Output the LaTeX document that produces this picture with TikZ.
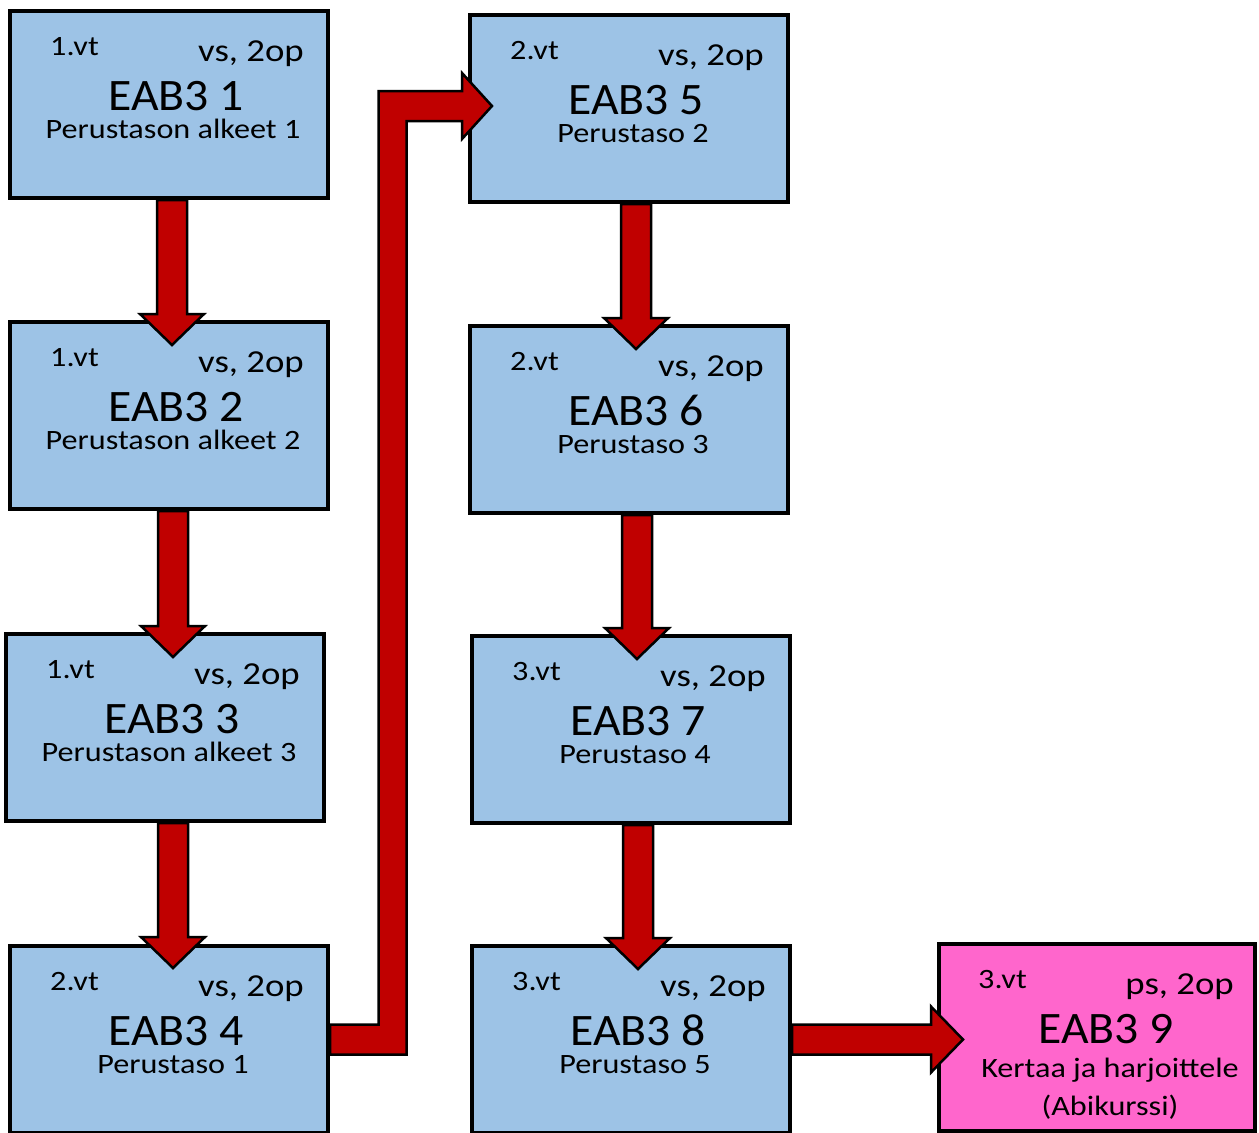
\documentclass[tikz,border=0pt]{standalone}
\usepackage{fontspec}
\setmainfont{Carlito}
\newfontfamily\smallwide[FakeStretch=1.15]{Carlito}
\newfontfamily\titlewide[FakeStretch=1.06]{Carlito}
\newfontfamily\subwide[FakeStretch=1.15]{Carlito}
\usetikzlibrary{calc}
\definecolor{boxblue}{HTML}{9DC3E6}
\definecolor{arrred}{HTML}{C00000}
\definecolor{boxpink}{HTML}{FF66CC}
\newcommand\fatdown[2]{\draw[fatarrow] let \p1=(#1), \p2=(#2) in
 (\x2-15pt,\y1) -- (\x2-15pt,\y2+31pt) -- (\x2-32pt,\y2+31pt) -- (\x2,\y2) --
 (\x2+32pt,\y2+31pt) -- (\x2+15pt,\y2+31pt) -- (\x2+15pt,\y1) -- cycle;}
\newcommand\fatright[2]{\draw[fatarrow] let \p1=(#1), \p2=(#2) in
 (\x1,\y1+15pt) -- (\x2-32pt,\y1+15pt) -- (\x2-32pt,\y1+33pt) -- (\x2,\y1) --
 (\x2-32pt,\y1-33pt) -- (\x2-32pt,\y1-15pt) -- (\x1,\y1-15pt) -- cycle;}
\newcommand\boxtexts[5]{%
 \node[semtxt] (#1s) at ($(#1.north west)+(40,44)$) {#2};
 \node[optxt] (#1o) at ($(#1.north west)+(294,50)$) {#3};
 \node[titletxt] (#1t) at ($(#1.north west)+(166,99)$) {#4};
 \node[subtxt] (#1u) at ($(#1.north west)+(163,127)$) {#5};}
\begin{document}
\begin{tikzpicture}[x=1pt,y=-1pt,
 course/.style={draw=black, line width=4pt, fill=boxblue, minimum width=318pt,
   minimum height=187pt, inner sep=0pt, outer sep=0pt},
 fatarrow/.style={draw=black, line width=2.5pt, fill=arrred, line join=miter},
 semtxt/.style={anchor=base west, inner sep=0pt, font=\smallwide\fontsize{28}{28}\selectfont},
 optxt/.style={anchor=base east, inner sep=0pt, font=\smallwide\fontsize{32}{32}\selectfont},
 titletxt/.style={anchor=base, inner sep=0pt, font=\titlewide\fontsize{45}{45}\selectfont},
 subtxt/.style={anchor=base, inner sep=0pt, font=\subwide\fontsize{28}{28}\selectfont}]
\useasboundingbox (0,0) rectangle (1259,1133);
\node[course] (b1) at (169,104.5) {};
\node[course] (b2) at (169,415.5) {};
\node[course] (b3) at (165,727.5) {};
\node[course] (b4) at (169,1039.5) {};
\node[course] (b5) at (629,108.5) {};
\node[course] (b6) at (629,419.5) {};
\node[course] (b7) at (631,729.5) {};
\node[course] (b8) at (631,1039.5) {};
\node[course, fill=boxpink, minimum width=316pt] (b9) at (1097,1037.5) {};
\boxtexts{b1}{1.vt}{vs, 2op}{EAB3 1}{Perustason alkeet 1}
\boxtexts{b2}{1.vt}{vs, 2op}{EAB3 2}{Perustason alkeet 2}
\boxtexts{b3}{1.vt}{vs, 2op}{EAB3 3}{Perustason alkeet 3}
\boxtexts{b4}{2.vt}{vs, 2op}{EAB3 4}{Perustaso 1}
\boxtexts{b5}{2.vt}{vs, 2op}{EAB3 5}{Perustaso 2}
\boxtexts{b6}{2.vt}{vs, 2op}{EAB3 6}{Perustaso 3}
\boxtexts{b7}{3.vt}{vs, 2op}{EAB3 7}{Perustaso 4}
\boxtexts{b8}{3.vt}{vs, 2op}{EAB3 8}{Perustaso 5}
\node[semtxt] (b9s) at ($(b9.north west)+(39,44)$) {3.vt};
\node[optxt] (b9o) at ($(b9.north west)+(295,50)$) {ps, 2op};
\node[titletxt] (b9t) at ($(b9.north west)+(167,99)$) {EAB3 9};
\node[subtxt] (b9u) at ($(b9.north west)+(171,133)$) {Kertaa ja harjoittele};
\node[subtxt] (b9v) at ($(b9.north west)+(171,171)$) {(Abikurssi)};
\fatdown{$(b1.south)+(0,2)$}{$(b2.north)+(3,23)$}
\fatdown{$(b2.south)+(0,2)$}{$(b3.north)+(8,23)$}
\fatdown{$(b3.south)+(0,2)$}{$(b4.north)+(4,22)$}
\fatdown{$(b5.south)+(0,2)$}{$(b6.north)+(7,23)$}
\fatdown{$(b6.south)+(0,2)$}{$(b7.north)+(6,23)$}
\fatdown{$(b7.south)+(0,2)$}{$(b8.north)+(7,23)$}
\fatright{$(b8.east)+(2,0)$}{$(b9.west)+(24,0)$}
\coordinate (bend) at (392.5,500);
\draw[fatarrow] let \p1=($(b4.east)+(2,0)$), \p2=($(b5.west)+(22,-2.5)$), \p3=(bend) in
 (\x1,\y1-15pt) -- (\x3+14pt,\y1-15pt) -- (\x3+14pt,\y2-15pt) -- (\x2-30pt,\y2-15pt) --
 (\x2-30pt,\y2-33pt) -- (\x2,\y2) -- (\x2-30pt,\y2+33pt) -- (\x2-30pt,\y2+15pt) --
 (\x3-14pt,\y2+15pt) -- (\x3-14pt,\y1+15pt) -- (\x1,\y1+15pt) -- cycle;
\end{tikzpicture}
\end{document}
